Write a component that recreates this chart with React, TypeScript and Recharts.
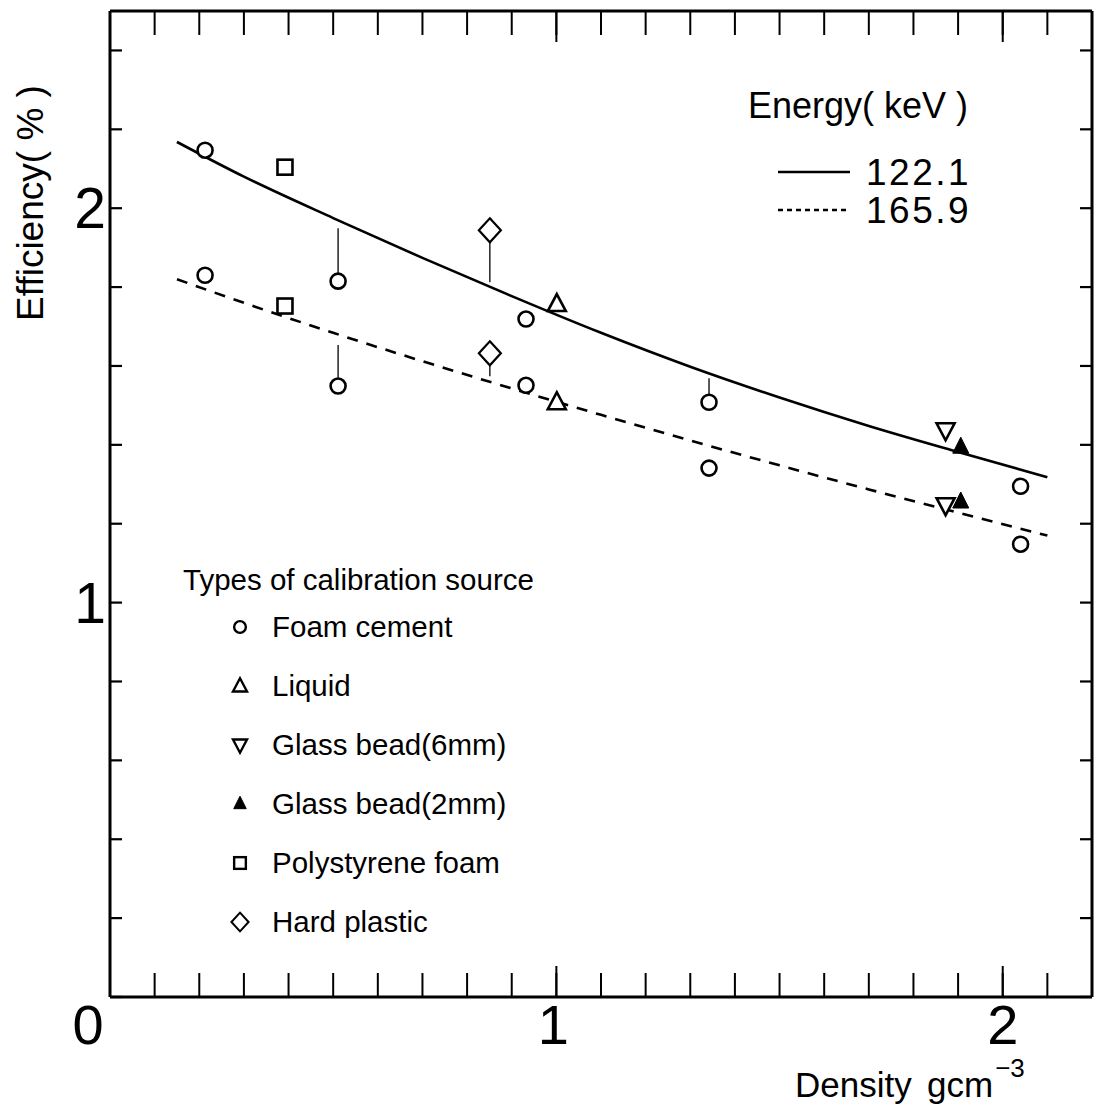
import React from 'react';
import { ComposedChart, Scatter, XAxis, YAxis, ReferenceLine } from 'recharts';

// ---------- data ----------
const xTicks = [0, 0.1, 0.2, 0.3, 0.4, 0.5, 0.6, 0.7, 0.8, 0.9, 1, 1.1, 1.2, 1.3, 1.4, 1.5, 1.6, 1.7, 1.8, 1.9, 2, 2.1, 2.2];
const xMajorTicks = [1, 2];
const xLabelTicks = [0, 1, 2];
const yTicks = [0, 0.2, 0.4, 0.6, 0.8, 1, 1.2, 1.4, 1.6, 1.8, 2, 2.2, 2.4];
const yLabelTicks = [1, 2];

// d = density (g/cm3), e122 = efficiency at 122.1 keV, e166 = efficiency at 165.9 keV
const foamCement = [
  { d: 0.213, e122: 2.147, e166: 1.83 },
  { d: 0.511, e122: 1.815, e166: 1.549 },
  { d: 0.932, e122: 1.719, e166: 1.551 },
  { d: 1.342, e122: 1.508, e166: 1.341 },
  { d: 2.04, e122: 1.295, e166: 1.148 },
];
const liquid = [{ d: 1.001, e122: 1.757, e166: 1.508 }];
const glassBead6 = [{ d: 1.872, e122: 1.437, e166: 1.247 }];
const glassBead2 = [{ d: 1.906, e122: 1.394, e166: 1.255 }];
const polystyreneFoam = [{ d: 0.392, e122: 2.104, e166: 1.752 }];
const hardPlastic = [{ d: 0.851, e122: 1.944, e166: 1.632 }];

const fit122 = [
  { d: 0.15, e: 2.168 },
  { d: 0.3, e: 2.08 },
  { d: 0.5, e: 1.975 },
  { d: 0.7, e: 1.874 },
  { d: 0.9, e: 1.777 },
  { d: 1.1, e: 1.684 },
  { d: 1.3, e: 1.598 },
  { d: 1.5, e: 1.52 },
  { d: 1.7, e: 1.448 },
  { d: 1.9, e: 1.382 },
  { d: 2.1, e: 1.318 },
];
const fit166 = [
  { d: 0.15, e: 1.82 },
  { d: 0.3, e: 1.76 },
  { d: 0.5, e: 1.684 },
  { d: 0.7, e: 1.612 },
  { d: 0.9, e: 1.543 },
  { d: 1.1, e: 1.476 },
  { d: 1.3, e: 1.411 },
  { d: 1.5, e: 1.348 },
  { d: 1.7, e: 1.287 },
  { d: 1.9, e: 1.228 },
  { d: 2.1, e: 1.17 },
];

const stems = [
  { d: 0.511, from: 1.835, to: 1.949 },
  { d: 0.511, from: 1.653, to: 1.57 },
  { d: 0.851, from: 1.916, to: 1.812 },
  { d: 0.851, from: 1.604, to: 1.574 },
  { d: 1.342, from: 1.569, to: 1.528 },
];

const energyLegend = [
  { label: '122.1', dash: undefined as string | undefined },
  { label: '165.9', dash: '5 4' },
];
const sourceLegend = [
  { label: 'Foam cement', kind: 'circle' },
  { label: 'Liquid', kind: 'triUp' },
  { label: 'Glass bead(6mm)', kind: 'triDown' },
  { label: 'Glass bead(2mm)', kind: 'triFilled' },
  { label: 'Polystyrene foam', kind: 'square' },
  { label: 'Hard plastic', kind: 'diamond' },
];

// ---------- styling ----------
const FONT = '"Liberation Sans", Arial, Helvetica, sans-serif';
const W = 1096;
const H = 1113;
const PLOT_BOTTOM = 997;

function Marker({ kind, cx, cy, s = 1 }: { kind: string; cx: number; cy: number; s?: number }) {
  const sw = s < 1 ? 2.4 : 2.6;
  if (cx == null || cy == null) return <g />;
  switch (kind) {
    case 'circle':
      return <circle cx={cx} cy={cy} r={7.5 * s} fill="#fff" stroke="#000" strokeWidth={sw} />;
    case 'square':
      return <rect x={cx - 7.5 * s} y={cy - 7.5 * s} width={15 * s} height={15 * s} fill="#fff" stroke="#000" strokeWidth={sw} />;
    case 'diamond':
      return (
        <polygon
          points={`${cx},${cy - 12 * s} ${cx + 11 * s},${cy} ${cx},${cy + 12 * s} ${cx - 11 * s},${cy}`}
          fill="#fff" stroke="#000" strokeWidth={sw * 0.85}
        />
      );
    case 'triUp':
      return (
        <polygon
          points={`${cx},${cy - 10 * s} ${cx + 9 * s},${cy + 7 * s} ${cx - 9 * s},${cy + 7 * s}`}
          fill="#fff" stroke="#000" strokeWidth={sw}
        />
      );
    case 'triDown':
      return (
        <polygon
          points={`${cx - 9 * s},${cy - 7 * s} ${cx + 9 * s},${cy - 7 * s} ${cx},${cy + 10 * s}`}
          fill="#fff" stroke="#000" strokeWidth={sw}
        />
      );
    case 'triFilled':
      return (
        <polygon
          points={`${cx},${cy - 10 * s} ${cx + 8 * s},${cy + 6 * s} ${cx - 8 * s},${cy + 6 * s}`}
          fill="#000" stroke="#000" strokeWidth={1}
        />
      );
    default:
      return <g />;
  }
}

const shapeOf = (kind: string) => (props: any) => <Marker kind={kind} cx={props.cx} cy={props.cy} />;
const noShape = () => <g />;
const EmptyTick = () => <g />;

function XTickLabel(props: any) {
  const v = props.payload?.value;
  if (!xLabelTicks.includes(v)) return <g />;
  const dx = v === 0 ? -22 : v === 1 ? -3 : 0;
  return (
    <text x={props.x + dx} y={PLOT_BOTTOM + 47} textAnchor="middle" fontSize={56} fontFamily={FONT} fill="#000">
      {v}
    </text>
  );
}

function YTickLabel(props: any) {
  const v = props.payload?.value;
  if (!yLabelTicks.includes(v)) return <g />;
  return (
    <text x={106} y={props.y + 20} textAnchor="end" fontSize={57} fontFamily={FONT} fill="#000">
      {v}
    </text>
  );
}

const series = [
  { data: foamCement, kind: 'circle' },
  { data: liquid, kind: 'triUp' },
  { data: glassBead6, kind: 'triDown' },
  { data: glassBead2, kind: 'triFilled' },
  { data: polystyreneFoam, kind: 'square' },
  { data: hardPlastic, kind: 'diamond' },
];

// axis pairs that only carry the frame's tick marks; an invisible series binds each
const frameAxisPairs = [
  { x: 't', y: 'r' },
  { x: 'b2', y: 'r' },
  { x: 't2', y: 'l' },
];

export default function App() {
  const axisCommon = { stroke: '#000', allowDataOverflow: true, type: 'number' as const };
  return (
    <div style={{ position: 'relative', width: W, height: H, fontFamily: FONT, overflow: 'hidden' }}>
      <style>{'html,body{margin:0;padding:0;overflow:hidden;}'}</style>
      <ComposedChart width={W} height={H} margin={{ top: 9, right: 1, bottom: 114, left: 109 }}>
        <XAxis
          {...axisCommon}
          xAxisId="b"
          dataKey="d"
          orientation="bottom"
          domain={[0, 2.2]}
          ticks={xTicks}
          interval={0}
          height={1}
          tickSize={-24}
          axisLine={{ stroke: '#000', strokeWidth: 3 }}
          tickLine={{ stroke: '#000', strokeWidth: 2 }}
          tick={<XTickLabel />}
        />
        <XAxis
          {...axisCommon}
          xAxisId="b2"
          dataKey="d"
          orientation="bottom"
          domain={[0, 2.2]}
          ticks={xMajorTicks}
          interval={0}
          height={1}
          tickSize={-32}
          axisLine={false}
          tickLine={{ stroke: '#000', strokeWidth: 2 }}
          tick={<EmptyTick />}
        />
        <XAxis
          {...axisCommon}
          xAxisId="t"
          dataKey="d"
          orientation="top"
          domain={[0, 2.2]}
          ticks={xTicks}
          interval={0}
          height={1}
          tickSize={-24}
          axisLine={{ stroke: '#000', strokeWidth: 3 }}
          tickLine={{ stroke: '#000', strokeWidth: 2 }}
          tick={<EmptyTick />}
        />
        <XAxis
          {...axisCommon}
          xAxisId="t2"
          dataKey="d"
          orientation="top"
          domain={[0, 2.2]}
          ticks={xMajorTicks}
          interval={0}
          height={1}
          tickSize={-32}
          axisLine={false}
          tickLine={{ stroke: '#000', strokeWidth: 2 }}
          tick={<EmptyTick />}
        />
        <YAxis
          {...axisCommon}
          yAxisId="l"
          orientation="left"
          domain={[0, 2.5]}
          ticks={yTicks}
          interval={0}
          width={1}
          tickSize={-12}
          axisLine={{ stroke: '#000', strokeWidth: 3 }}
          tickLine={{ stroke: '#000', strokeWidth: 2.2 }}
          tick={<YTickLabel />}
        />
        <YAxis
          {...axisCommon}
          yAxisId="r"
          orientation="right"
          domain={[0, 2.5]}
          ticks={yTicks}
          interval={0}
          width={3}
          tickSize={-12}
          axisLine={{ stroke: '#000', strokeWidth: 3 }}
          tickLine={{ stroke: '#000', strokeWidth: 2.2 }}
          tick={<EmptyTick />}
        />

        {frameAxisPairs.map((p) => (
          <Scatter
            key={`frame-${p.x}-${p.y}`}
            xAxisId={p.x}
            yAxisId={p.y}
            data={fit122}
            dataKey="e"
            shape={noShape}
            isAnimationActive={false}
          />
        ))}

        {stems.map((s, i) => (
          <ReferenceLine
            key={`stem-${i}`}
            xAxisId="b"
            yAxisId="l"
            segment={[{ x: s.d, y: s.from }, { x: s.d, y: s.to }]}
            stroke="#000"
            strokeWidth={1.3}
          />
        ))}

        <Scatter
          xAxisId="b"
          yAxisId="l"
          data={fit122}
          dataKey="e"
          line={{ stroke: '#000', strokeWidth: 2.6 }}
          lineJointType="monotoneX"
          shape={noShape}
          isAnimationActive={false}
        />
        <Scatter
          xAxisId="b"
          yAxisId="l"
          data={fit166}
          dataKey="e"
          line={{ stroke: '#000', strokeWidth: 2.6, strokeDasharray: '11 9' }}
          lineJointType="monotoneX"
          shape={noShape}
          isAnimationActive={false}
        />

        {series.map((s) => (
          <Scatter
            key={`${s.kind}-122`}
            xAxisId="b"
            yAxisId="l"
            data={s.data}
            dataKey="e122"
            shape={shapeOf(s.kind)}
            isAnimationActive={false}
          />
        ))}
        {series.map((s) => (
          <Scatter
            key={`${s.kind}-166`}
            xAxisId="b"
            yAxisId="l"
            data={s.data}
            dataKey="e166"
            shape={shapeOf(s.kind)}
            isAnimationActive={false}
          />
        ))}
      </ComposedChart>

      <svg
        width={W}
        height={H}
        style={{ position: 'absolute', left: 0, top: 0, pointerEvents: 'none' }}
        fontFamily={FONT}
      >
        {/* axis titles */}
        <text x={43} y={203} transform="rotate(-90 43 203)" textAnchor="middle" fontSize={37} fill="#000">
          Efficiency( % )
        </text>
        <text y={1097} fontSize={35} fill="#000">
          <tspan x={795}>Density</tspan>
          <tspan x={927}>gcm</tspan>
          <tspan fontSize={26} dy={-20} dx={2}>−3</tspan>
        </text>

        {/* energy legend */}
        <text x={748} y={118} fontSize={36} fill="#000">Energy( keV )</text>
        {energyLegend.map((e, i) => (
          <g key={e.label}>
            <line x1={778} x2={850} y1={172 + i * 38} y2={172 + i * 38} stroke="#000" strokeWidth={2.5} strokeDasharray={e.dash} />
            <text x={866} y={185 + i * 38} fontSize={37} letterSpacing={2.5} fill="#000">{e.label}</text>
          </g>
        ))}

        {/* source type legend */}
        <text x={183} y={590} fontSize={29.5} fill="#000">Types of calibration source</text>
        {sourceLegend.map((s, i) => (
          <g key={s.label}>
            <Marker kind={s.kind} cx={240} cy={627 + i * 59} s={0.78} />
            <text x={272} y={637 + i * 59} fontSize={29.5} fill="#000">{s.label}</text>
          </g>
        ))}
      </svg>
    </div>
  );
}
